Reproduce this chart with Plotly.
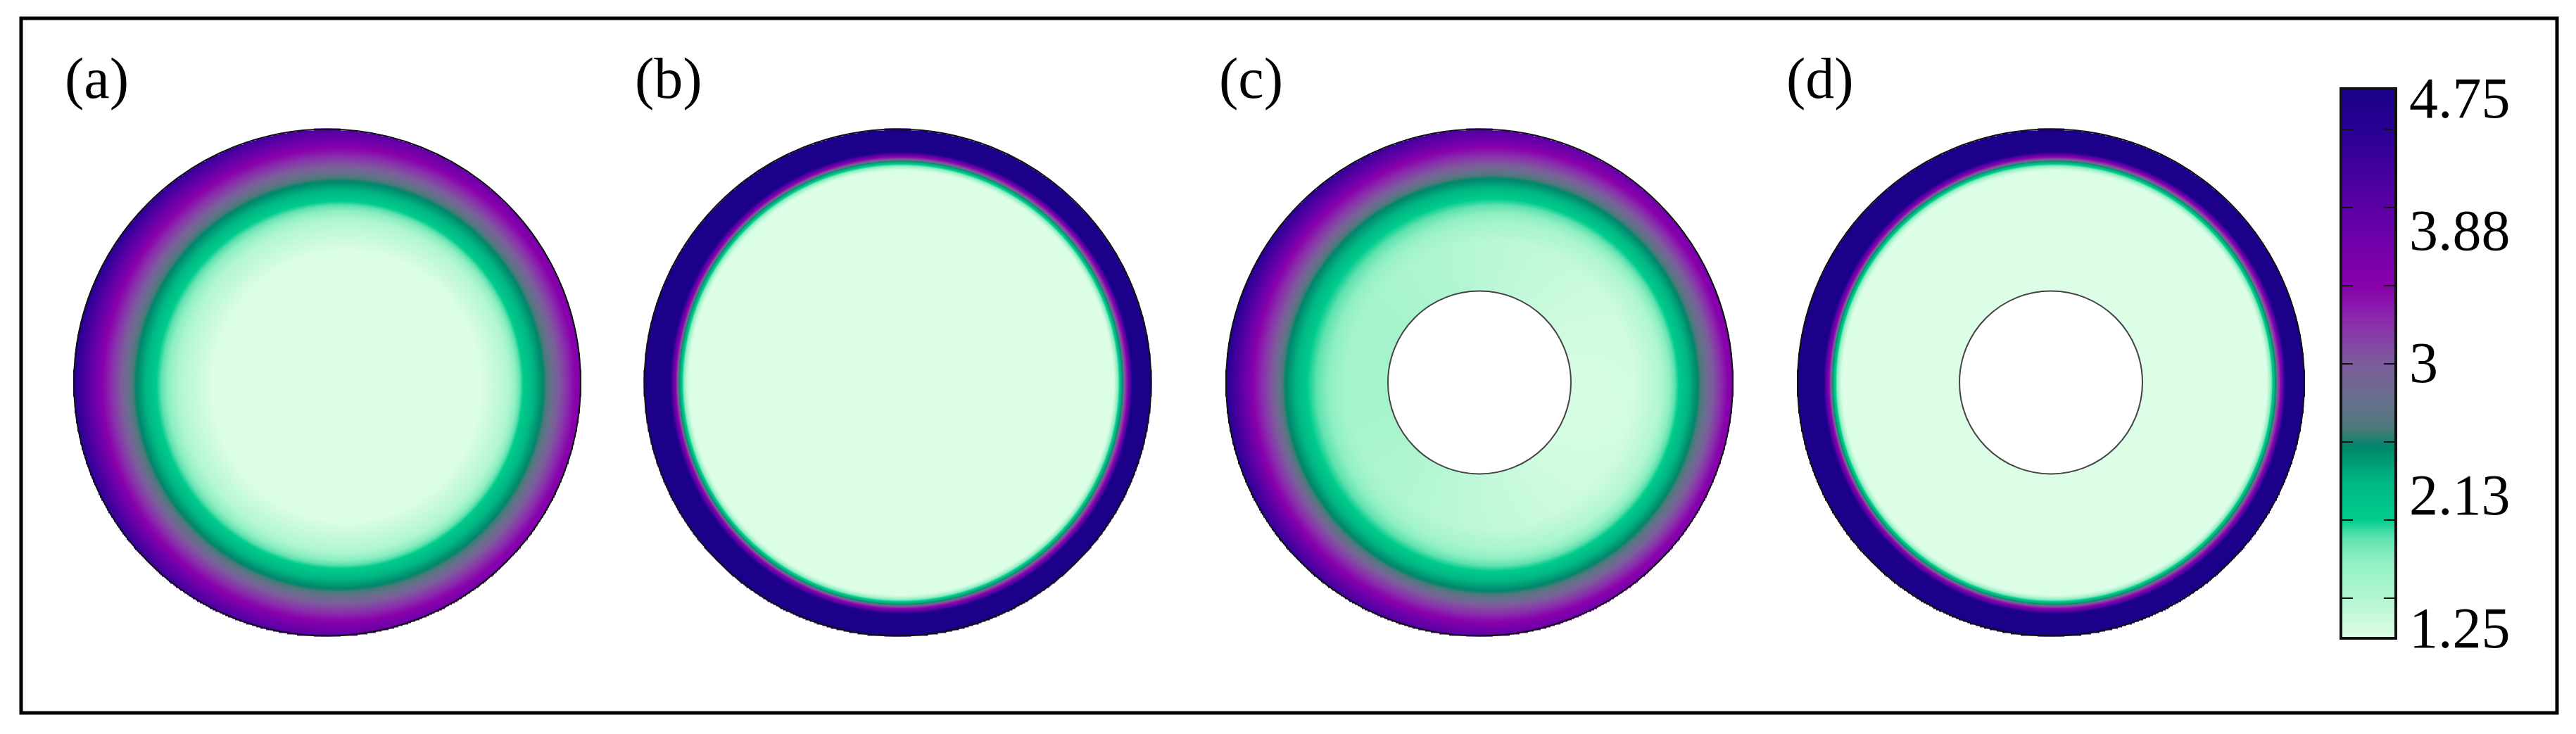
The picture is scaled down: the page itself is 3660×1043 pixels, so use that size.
import numpy as np
import plotly.graph_objects as go

W, H = 3660, 1043

# Panels and the radial colour profile read along the horizontal diameter of each disc.
panel_labels = ["(a)", "(b)", "(c)", "(d)"]
panel_cx = [465, 1275.5, 2102, 2914]
panel_cy = 543.5
disc_radius = 360
hole_radius = [None, None, 130, 130]
label_cx = [137, 950, 1777, 2586]
label_cy = 112
tilt_deg = 10

# Profile stations: distance from centre (px) and field value on the left and right sides.
a_left_r = [0, 163, 210, 243, 273, 293, 320, 340, 361]
a_left_z = [1.25, 1.25, 1.5, 2.0, 2.5, 3.0, 3.5, 4.05, 4.55]
a_right_r = [0, 218, 258, 278, 308, 328, 353, 357, 361]
a_right_z = [1.25, 1.25, 1.5, 2.0, 2.5, 3.0, 3.5, 3.55, 3.6]

b_left_r = [0, 297.5, 301.5, 306.5, 311.5, 313, 316, 320, 324, 361]
b_left_z = [1.25, 1.25, 1.5, 2.0, 2.5, 3.0, 3.5, 4.0, 4.7, 4.72]
b_right_r = [0, 306.5, 309.5, 314.5, 319.5, 321.5, 326.5, 329.5, 332.5, 361]
b_right_z = [1.25, 1.25, 1.5, 2.0, 2.5, 3.0, 3.5, 4.0, 4.7, 4.72]

c_left_r = [0, 190, 205, 245, 277, 294, 322, 340, 361]
c_left_z = [1.6, 1.6, 1.68, 2.0, 2.5, 3.0, 3.5, 4.05, 4.55]
c_right_r = [0, 218, 258, 283, 311, 331, 353, 357, 361]
c_right_z = [1.25, 1.3, 1.5, 2.0, 2.5, 3.0, 3.5, 3.55, 3.6]

d_left_r = b_left_r
d_left_z = b_left_z
d_right_r = b_right_r
d_right_z = b_right_z

profiles = [
    (a_left_r, a_left_z, a_right_r, a_right_z, tilt_deg),
    (b_left_r, b_left_z, b_right_r, b_right_z, 0),
    (c_left_r, c_left_z, c_right_r, c_right_z, tilt_deg),
    (d_left_r, d_left_z, d_right_r, d_right_z, 0),
]

# Colour key
z_min, z_max = 1.25, 4.75
key_levels = [1.25, 1.5, 1.75, 1.89, 2.0, 2.25, 2.47, 2.58, 2.76, 3.0, 3.25, 3.5, 4.0, 4.5, 4.75]
key_colors = ["#dcfde6", "#b2f6d2", "#8eefc2", "#5fe2b0", "#00cc8c", "#00b683", "#00866b", "#4a7a7a",
              "#67708c", "#7c5d9c", "#8a30ac", "#8800ac", "#5c00a6", "#280094", "#1a0088"]
key_ticks = [1.5, 2.0, 2.5, 3.0, 3.5, 4.0, 4.5]
key_labels = ["1.25", "2.13", "3", "3.88", "4.75"]
key_label_y = [892, 703, 515, 327, 139]
key_x = (3328, 3402)
key_y = (128, 905)
key_label_x = 3423

FONT = "Liberation Serif"
colorscale = [[(v - z_min) / (z_max - z_min), c] for v, c in zip(key_levels, key_colors)]


def field(left_r, left_z, right_r, right_z, tilt, hole):
    n = 361
    axis = np.linspace(-disc_radius, disc_radius, n)
    x, y = np.meshgrid(axis, axis)
    r = np.hypot(x, y)
    a = np.radians(tilt)
    w = (1 + (-x * np.cos(a) + y * np.sin(a)) / np.maximum(r, 1e-9)) / 2  # 1 on the left, 0 on the right
    z = np.full(x.shape, np.nan)
    lr, lz, rr, rz = map(np.asarray, (left_r, left_z, right_r, right_z))
    for k in range(len(lr) - 1):
        r0 = w * lr[k] + (1 - w) * rr[k]
        r1 = w * lr[k + 1] + (1 - w) * rr[k + 1]
        z0 = w * lz[k] + (1 - w) * rz[k]
        z1 = w * lz[k + 1] + (1 - w) * rz[k + 1]
        m = (r >= r0) & (r <= r1)
        z[m] = (z0 + (r - r0) / (r1 - r0) * (z1 - z0))[m]
    z[r > disc_radius + 0.5] = np.nan
    if hole:
        z[r < hole - 0.5] = np.nan
    return axis, np.round(z, 3)


def fx(px):
    return px / W


def fy(px):
    return 1 - px / H


fig = go.Figure()
layout = dict(
    width=W, height=H, margin=dict(l=0, r=0, t=0, b=0, pad=0, autoexpand=False),
    paper_bgcolor="white", plot_bgcolor="rgba(0,0,0,0)", showlegend=False,
    coloraxis=dict(colorscale=colorscale, cmin=z_min, cmax=z_max, showscale=False),
)
shapes, annotations = [], []

for i, (cx, prof, hole) in enumerate(zip(panel_cx, profiles, hole_radius), start=1):
    ax, z = field(*prof, hole)
    fig.add_trace(go.Heatmap(x=ax, y=ax, z=z, coloraxis="coloraxis", zsmooth="best",
                             xaxis=f"x{i}", yaxis=f"y{i}", hoverinfo="skip"))
    pad = disc_radius + 4
    layout[f"xaxis{i}"] = dict(domain=[fx(cx - pad), fx(cx + pad)], range=[-pad, pad], visible=False,
                               anchor=f"y{i}")
    layout[f"yaxis{i}"] = dict(domain=[fy(panel_cy + pad), fy(panel_cy - pad)], range=[-pad, pad],
                               visible=False, anchor=f"x{i}")
    xr, yr = f"x{i}", f"y{i}"
    shapes.append(dict(type="circle", xref=xr, yref=yr, x0=-disc_radius, x1=disc_radius,
                       y0=-disc_radius, y1=disc_radius, line=dict(color="#111111", width=2)))
    if hole:
        shapes.append(dict(type="circle", xref=xr, yref=yr, x0=-hole, x1=hole, y0=-hole, y1=hole,
                           fillcolor="white", line=dict(color="#444444", width=2)))
    annotations.append(dict(text=panel_labels[i - 1], xref="paper", yref="paper", x=fx(label_cx[i - 1]),
                            y=fy(label_cy), xanchor="center", yanchor="middle", showarrow=False,
                            font=dict(family=FONT, size=82, color="black")))

# Colour key drawn as a heatmap on its own axes
key_values = np.linspace(z_min, z_max, 400)
fig.add_trace(go.Heatmap(x=[0, 1], y=key_values, z=np.column_stack([key_values, key_values]),
                         coloraxis="coloraxis", zsmooth="best", xaxis="x5", yaxis="y5", hoverinfo="skip"))
layout["xaxis5"] = dict(domain=[fx(key_x[0]), fx(key_x[1])], range=[0, 1], showticklabels=False,
                        ticks="", showgrid=False, zeroline=False, showline=True, mirror=True,
                        linecolor="#111111", linewidth=4, anchor="y5")
layout["yaxis5"] = dict(domain=[fy(key_y[1]), fy(key_y[0])], range=[z_min, z_max], showticklabels=False,
                        tickmode="array", tickvals=key_ticks, ticks="inside", ticklen=15, tickwidth=2,
                        tickcolor="#111111", showgrid=False, zeroline=False, showline=True, mirror="ticks",
                        linecolor="#111111", linewidth=4, anchor="x5")
for t, py in zip(key_labels, key_label_y):
    annotations.append(dict(text=t, xref="paper", yref="paper", x=fx(key_label_x), y=fy(py),
                            xanchor="left", yanchor="middle", showarrow=False, xshift=-2,
                            font=dict(family=FONT, size=82, color="black")))

# Outer frame
shapes.append(dict(type="rect", xref="paper", yref="paper", x0=fx(30), x1=fx(3633), y0=fy(1013), y1=fy(26),
                   line=dict(color="black", width=5)))

fig.update_layout(**layout, shapes=shapes, annotations=annotations)
fig.write_html("out.html", config={"displayModeBar": False},
               post_script="document.body.style.margin='0';")
